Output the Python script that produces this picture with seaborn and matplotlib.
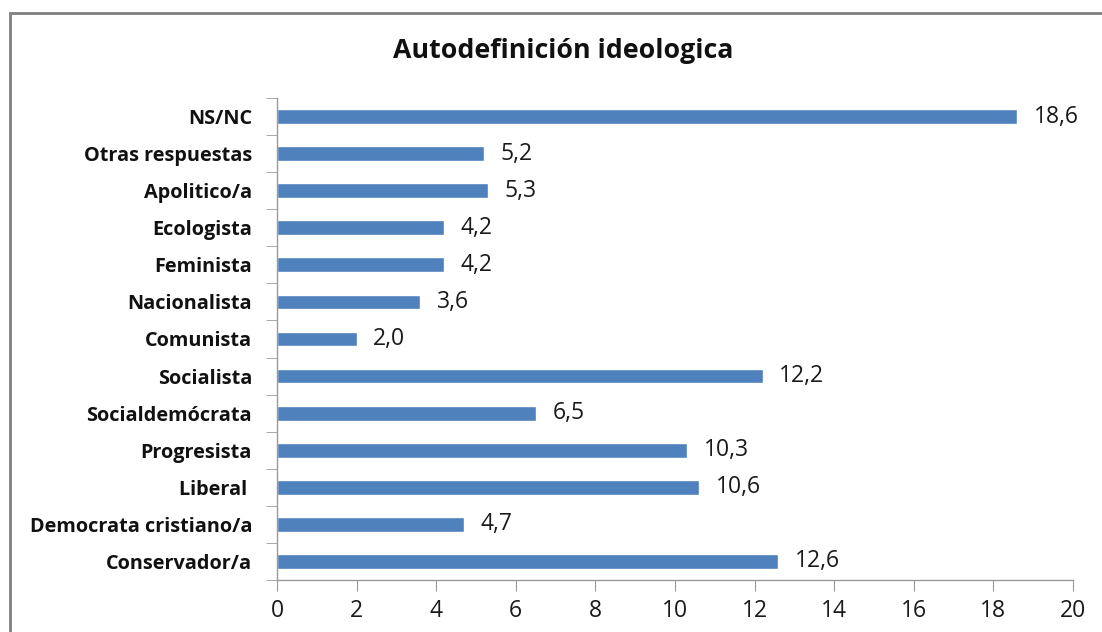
import matplotlib
matplotlib.use("Agg")
import matplotlib.pyplot as plt
import seaborn as sns
import numpy as np
from matplotlib.patches import Rectangle

# data, top to bottom as in the chart
categories = ["NS/NC", "Otras respuestas", "Apolitico/a", "Ecologista", "Feminista",
              "Nacionalista", "Comunista", "Socialista", "Socialdemócrata",
              "Progresista", "Liberal ", "Democrata cristiano/a", "Conservador/a"]
values = [18.6, 5.2, 5.3, 4.2, 4.2, 3.6, 2.0, 12.2, 6.5, 10.3, 10.6, 4.7, 12.6]
x_ticks = [0, 2, 4, 6, 8, 10, 12, 14, 16, 18, 20]

sns.set_style("white")
plt.rcParams['font.family'] = ['Open Sans', 'DejaVu Sans']

fig = plt.figure(figsize=(11.02, 6.32), dpi=100)
ax = fig.add_axes([277 / 1102, 1 - 580 / 632, (1073 - 277) / 1102, (580 - 98) / 632])

sns.barplot(x=values, y=categories, orient="h", color="#4F81BD", saturation=1,
            width=0.4, ax=ax)

# value labels with comma decimals
for i, v in enumerate(values):
    ax.text(v + 0.42, i, f"{v:.1f}".replace(".", ","), va="center", ha="left",
            fontsize=16.5, color="#1a1a1a")

ax.set_xlim(0, 20)
ax.set_ylim(len(categories) - 0.5, -0.5)
ax.set_xticks(x_ticks)
ax.set_xticklabels([str(t) for t in x_ticks], fontsize=16.5, color="#1a1a1a")
ax.set_yticks(range(len(categories)))
ax.set_yticklabels(categories, fontsize=14.3, fontweight="bold", color="#111111")
ax.set_yticks(np.arange(-0.5, len(categories)), minor=True)
ax.tick_params(axis="y", which="major", length=0, pad=18)
ax.tick_params(axis="y", which="minor", length=8, color="#9a9a9a", direction="out", left=True)
ax.tick_params(axis="x", length=8, color="#9a9a9a", direction="out", bottom=True, pad=6)
ax.set_xlabel("")
ax.set_ylabel("")

for side in ["top", "right"]:
    ax.spines[side].set_visible(False)
for side in ["left", "bottom"]:
    ax.spines[side].set_color("#9a9a9a")
    ax.spines[side].set_linewidth(1)

fig.text(563 / 1102, 1 - 51 / 632, "Autodefinición ideologica", ha="center", va="center",
         fontsize=19.3, fontweight="bold", color="#111111")

# chart frame, running off the right and bottom edges
fig.patches.append(Rectangle((10 / 1102, -0.1), 1.2, 1 - 13 / 632 + 0.1,
                             transform=fig.transFigure, fill=False,
                             edgecolor="#808080", linewidth=2))

fig.savefig("out.png", dpi=100)
